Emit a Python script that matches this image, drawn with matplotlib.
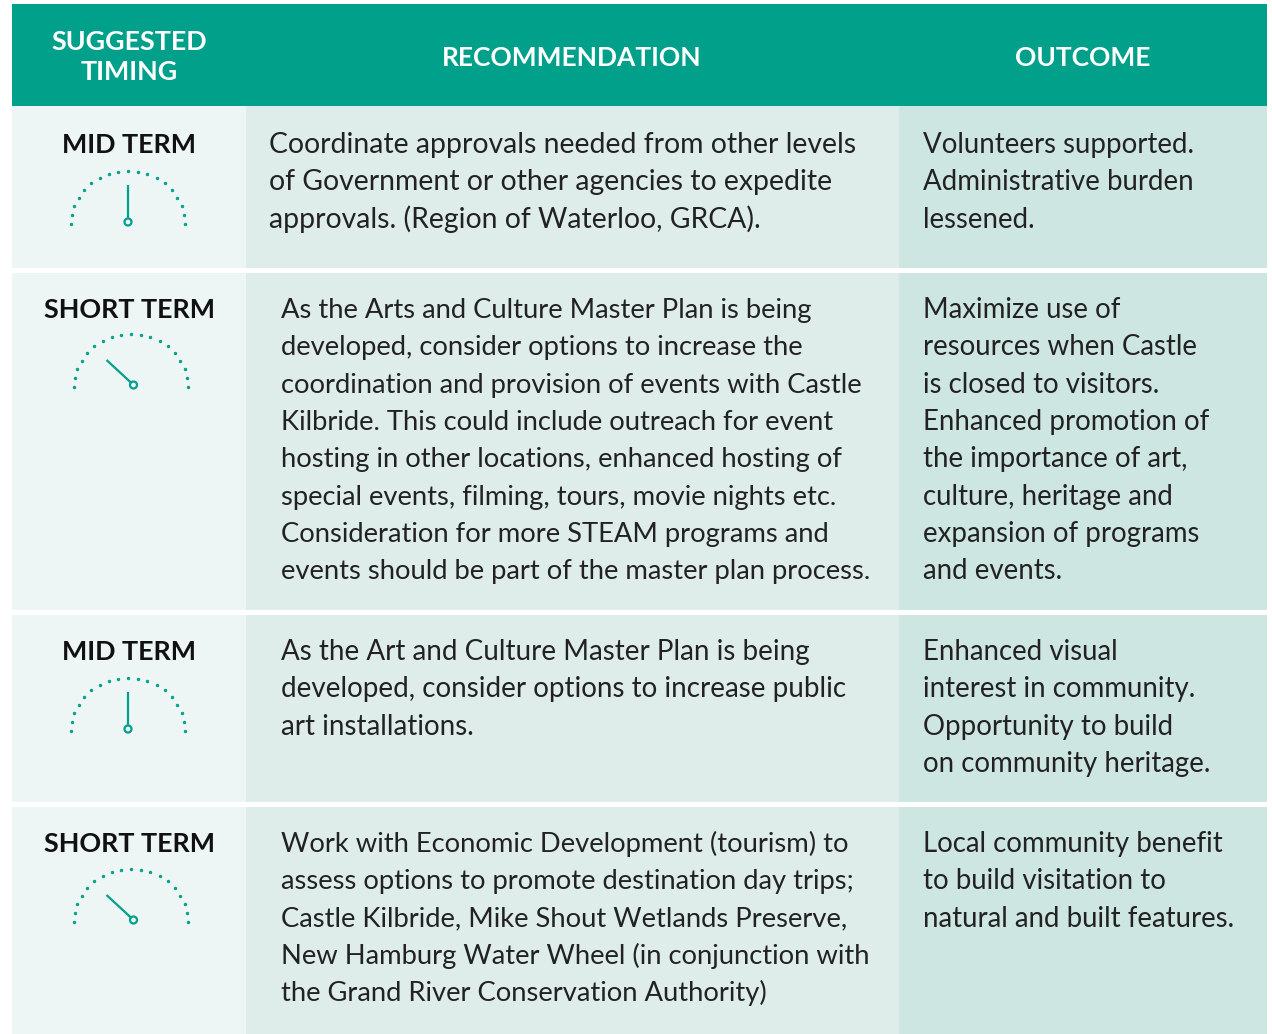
import numpy as np
import matplotlib
matplotlib.use("Agg")
import matplotlib.pyplot as plt
from matplotlib.patches import Rectangle, Ellipse

plt.rcParams['font.family'] = ['Lato', 'DejaVu Sans']

headers = ["SUGGESTED\nTIMING", "RECOMMENDATION", "OUTCOME"]
timing = ["MID TERM", "SHORT TERM", "MID TERM", "SHORT TERM"]
recommendation = [
    ["Coordinate approvals needed from other levels",
     "of Government or other agencies to expedite",
     "approvals. (Region of Waterloo, GRCA)."],
    ["As the Arts and Culture Master Plan is being",
     "developed, consider options to increase the",
     "coordination and provision of events with Castle",
     "Kilbride. This could include outreach for event",
     "hosting in other locations, enhanced hosting of",
     "special events, filming, tours, movie nights etc.",
     "Consideration for more STEAM programs and",
     "events should be part of the master plan process."],
    ["As the Art and Culture Master Plan is being",
     "developed, consider options to increase public",
     "art installations."],
    ["Work with Economic Development (tourism) to",
     "assess options to promote destination day trips;",
     "Castle Kilbride, Mike Shout Wetlands Preserve,",
     "New Hamburg Water Wheel (in conjunction with",
     "the Grand River Conservation Authority)"],
]
outcome = [
    ["Volunteers supported.", "Administrative burden", "lessened."],
    ["Maximize use of", "resources when Castle", "is closed to visitors.",
     "Enhanced promotion of", "the importance of art,", "culture, heritage and",
     "expansion of programs", "and events."],
    ["Enhanced visual", "interest in community.", "Opportunity to build",
     "on community heritage."],
    ["Local community benefit", "to build visitation to",
     "natural and built features."],
]

row_top = [106, 273, 615, 807]
row_bot = [268, 610, 802, 1034]
rec_x = [269, 281, 281, 281]
rec_size = [20.4, 19.7, 19.95, 19.75]
baseline = [153, 318, 660, 852]
gauge_y = [224, 387, 731, 922]
gauge_x = [128, 131, 128, 131]

GREEN = "#00a08a"
C1, C2, C3 = "#edf6f4", "#deedea", "#cee6e2"
LH = 37.3
TXT = 19.9

fig = plt.figure(figsize=(12.72, 10.34), dpi=100)
ax = fig.add_axes([0, 0, 1, 1])
ax.set_xlim(0, 1272)
ax.set_ylim(1034, 0)
ax.axis('off')

ax.add_patch(Rectangle((12, 4), 1255, 102, fc=GREEN, ec='none'))
ax.text(129, 57, headers[0], color='white', fontsize=19.4, weight='bold', ha='center', va='center',
        linespacing=1.28)
ax.text(572, 57.5, headers[1], color='white', fontsize=19, weight='bold', ha='center', va='center')
ax.text(1083, 57.5, headers[2], color='white', fontsize=19, weight='bold', ha='center', va='center')


def gauge(cx, cy, short):
    t = np.radians(np.linspace(180, 0, 19))
    ax.scatter(cx + 57 * np.cos(t), cy - 53 * np.sin(t), s=6, c=GREEN, linewidths=0, zorder=3)
    if short:
        px, py, tipx, tipy = cx + 2.5, cy - 2, cx - 24.5, cy - 27
        ax.plot([tipx, px - 2.5], [tipy, py - 2.4], color=GREEN, lw=1.6, solid_capstyle='butt')
    else:
        px, py, tipx, tipy = cx, cy - 2, cx, cy - 39
        ax.plot([tipx, px], [tipy, py - 3], color=GREEN, lw=1.6, solid_capstyle='butt')
    ax.add_patch(Ellipse((px, py), 7, 7, fc='none', ec=GREEN, lw=1.6))


for i in range(4):
    h = row_bot[i] - row_top[i]
    ax.add_patch(Rectangle((12, row_top[i]), 234, h, fc=C1, ec='none'))
    ax.add_patch(Rectangle((246, row_top[i]), 653, h, fc=C2, ec='none'))
    ax.add_patch(Rectangle((899, row_top[i]), 368, h, fc=C3, ec='none'))
    ax.text(129, baseline[i], timing[i], fontsize=19.4, weight='bold', color='#111111', ha='center', va='baseline')
    gauge(gauge_x[i], gauge_y[i], timing[i].startswith("SHORT"))
    for j, line in enumerate(recommendation[i]):
        ax.text(rec_x[i], baseline[i] + j * LH, line, fontsize=rec_size[i], color='#222222', va='baseline')
    for j, line in enumerate(outcome[i]):
        ax.text(923, baseline[i] + j * LH, line, fontsize=TXT, color='#222222', va='baseline')

fig.savefig("out.png", dpi=100, facecolor='white')
